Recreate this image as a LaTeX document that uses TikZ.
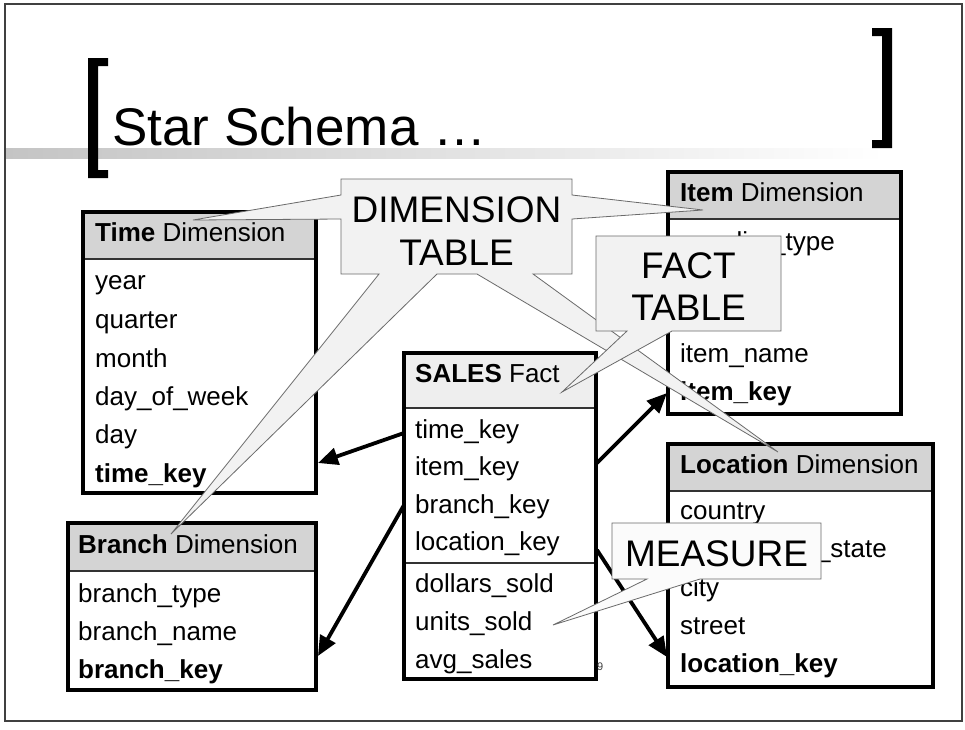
\documentclass[tikz,border=0pt]{standalone}
\usepackage{fontspec}
\setmainfont{Liberation Sans}
\usetikzlibrary{arrows.meta,calc}
\definecolor{hdrgray}{HTML}{D4D4D4}
\definecolor{facthdr}{HTML}{EEEEEE}
\definecolor{callfill}{HTML}{F2F2F2}
\definecolor{measfill}{HTML}{FBFBFB}
\definecolor{callline}{HTML}{6A6A6A}
\definecolor{framec}{HTML}{404040}
\definecolor{barl}{HTML}{C4C4C4}
\begin{document}
\begin{tikzpicture}[x=1pt,y=-1pt,
  boxfill/.style={fill=white,draw=none,anchor=north west,inner sep=0pt,outer sep=0pt},
  hdrfill/.style={fill=hdrgray,draw=none,anchor=north west,inner sep=0pt,outer sep=0pt},
  tblline/.style={draw=black,line width=3.2pt},
  sepline/.style={draw=black!80,line width=1.3pt},
  row/.style={anchor=base west,inner sep=0pt,font=\fontsize{26}{30}\selectfont},
  calltxt/.style={anchor=base,inner sep=0pt,font=\fontsize{37}{44}\selectfont},
  callout/.style={fill=callfill,draw=callline,line width=0.8pt,line join=miter},
  fk/.style={draw=black,line width=3.8pt,-{Triangle[length=20pt,width=17pt]}}
]
\useasboundingbox (0,0) rectangle (965,729);
\fill[white] (0,0) rectangle (965,729);

% title bar
\shade[left color=barl,right color=white] (5,148) rectangle (885,158);
\node[anchor=base west,inner sep=0pt,font=\fontsize{53}{62}\selectfont] (title) at (112,145) {Star Schema …};
\fill[black] (88,58) -- (108,58) -- (108,66) -- (98,66) -- (98,170) -- (108,170) -- (108,178) -- (88,178) -- cycle;
\fill[black] (892,28) -- (872,28) -- (872,36) -- (882,36) -- (882,140) -- (872,140) -- (872,148) -- (892,148) -- cycle;

% Time Dimension
\node[boxfill,minimum width=233pt,minimum height=281pt] (time) at (83,212) {};
\node[hdrfill,minimum width=233pt,minimum height=47pt] (timeh) at (83,212) {};
\draw[sepline] (timeh.south west) -- (timeh.south east);
\draw[tblline] (time.north west) rectangle (time.south east);
\node[row] (th) at (95,241) {\textbf{Time} Dimension};
\node[row] (t1) at (95,289) {year};
\node[row] (t2) at (95,328) {quarter};
\node[row] (t3) at (95,367) {month};
\node[row] (t4) at (95,405) {day\_of\_week};
\node[row] (t5) at (95,443) {day};
\node[row] (t6) at (95,482) {\textbf{time\_key}};

% Branch Dimension
\node[boxfill,minimum width=248pt,minimum height=167pt] (branch) at (68,523) {};
\node[hdrfill,minimum width=248pt,minimum height=48pt] (branchh) at (68,523) {};
\draw[sepline] (branchh.south west) -- (branchh.south east);
\draw[tblline] (branch.north west) rectangle (branch.south east);
\node[row] (bh) at (78,553) {\textbf{Branch} Dimension};
\node[row] (b1) at (78,602) {branch\_type};
\node[row] (b2) at (78,640) {branch\_name};
\node[row] (b3) at (78,678) {\textbf{branch\_key}};

% Item Dimension
\node[boxfill,minimum width=233pt,minimum height=242pt] (item) at (668,172) {};
\node[hdrfill,minimum width=233pt,minimum height=47pt] (itemh) at (668,172) {};
\draw[sepline] (itemh.south west) -- (itemh.south east);
\draw[tblline] (item.north west) rectangle (item.south east);
\node[row] (ih) at (680,201) {\textbf{Item} Dimension};
\node[row] (i1) at (680,250) {supplier\_type};
\node[row] (i4) at (680,362) {item\_name};
\node[row] (i5) at (680,400) {\textbf{item\_key}};

% Location Dimension
\node[boxfill,minimum width=265pt,minimum height=243pt] (loc) at (668,444) {};
\node[hdrfill,minimum width=265pt,minimum height=47pt] (loch) at (668,444) {};
\draw[sepline] (loch.south west) -- (loch.south east);
\draw[tblline] (loc.north west) rectangle (loc.south east);
\node[row] (lh) at (680,473) {\textbf{Location} Dimension};
\node[row] (l1) at (680,519) {country};
\node[row] (l2) at (680,557) {province\_or\_state};
\node[row] (l3) at (680,596) {city};
\node[row] (l4) at (680,634) {street};
\node[row] (l5) at (680,672) {\textbf{location\_key}};

% SALES Fact
\node[boxfill,minimum width=192pt,minimum height=326pt] (sales) at (404,353) {};
\node[hdrfill,fill=facthdr,minimum width=192pt,minimum height=55pt] (salesh) at (404,353) {};
\draw[sepline] (salesh.south west) -- (salesh.south east);
\coordinate (sepl) at (404,563);
\coordinate (sepr) at (596,563);
\draw[sepline] (sepl) -- (sepr);
\draw[tblline] (sales.north west) rectangle (sales.south east);
\node[row] (sh) at (415,382) {\textbf{SALES} Fact};
\node[row] (s1) at (415,438) {time\_key};
\node[row] (s2) at (415,475) {item\_key};
\node[row] (s3) at (415,513) {branch\_key};
\node[row] (s4) at (415,550) {location\_key};
\node[row] (s5) at (415,592) {dollars\_sold};
\node[row] (s6) at (415,630) {units\_sold};
\node[row] (s7) at (415,668) {avg\_sales};
\node[anchor=base west,inner sep=0pt,font=\fontsize{11}{13}\selectfont,text=black!75] (pg) at (597,670) {9};

% foreign key arrows
\coordinate (a1s) at (404,433); \coordinate (a1e) at (318,463);
\coordinate (a2s) at (404,505); \coordinate (a2e) at (318,656);
\coordinate (a3s) at (597,463); \coordinate (a3e) at (667,393);
\coordinate (a4s) at (597,550); \coordinate (a4e) at (667,657);
\draw[fk] (a1s) -- (a1e);
\draw[fk] (a2s) -- (a2e);
\draw[fk] (a3s) -- (a3e);
\draw[fk] (a4s) -- (a4e);

% callouts
\draw[callout] (341,179) -- (572,179) -- (572,195) -- (703,210) -- (572,219) -- (572,274)
  -- (533,274) -- (778,452) -- (477,274) -- (437,274) -- (171,534) -- (379,274)
  -- (341,274) -- (341,219) -- (193,220) -- (341,195) -- cycle;
\node[calltxt] (dim1) at (456.5,222) {DIMENSION};
\node[calltxt] (dim2) at (456.5,265) {TABLE};

\draw[callout] (596,236) -- (781,236) -- (781,331) -- (672,331) -- (562,392) -- (627,331) -- (596,331) -- cycle;
\node[calltxt] (fact1) at (688.5,278) {FACT};
\node[calltxt] (fact2) at (688.5,320) {TABLE};

\draw[callout,fill=measfill] (612,523) -- (821,523) -- (821,579) -- (700,579) -- (553,625) -- (647,579) -- (612,579) -- cycle;
\node[calltxt] (meas) at (716.5,566) {MEASURE};

% slide frame
\draw[framec,line width=2pt] (5,4) rectangle (962,721);
\end{tikzpicture}
\end{document}
